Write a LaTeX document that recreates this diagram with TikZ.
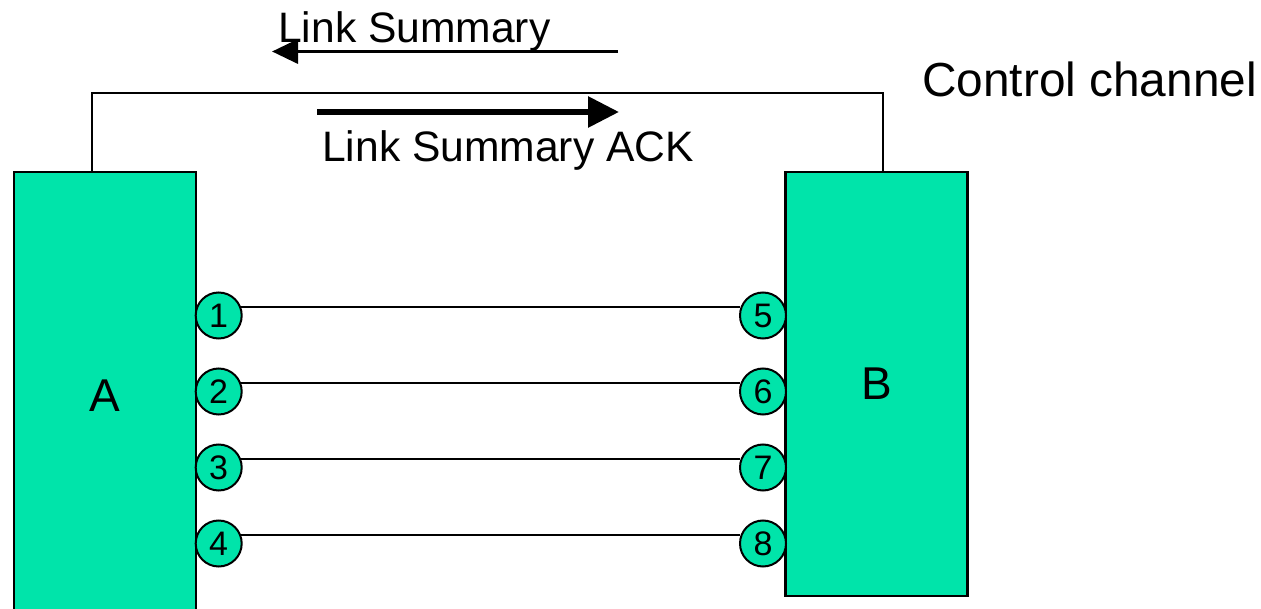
\documentclass[tikz,border=0pt]{standalone}
\usepackage{fontspec}
\setmainfont{Liberation Sans}
\usepackage{xcolor}
\usetikzlibrary{arrows.meta, positioning}
\definecolor{boxgreen}{RGB}{0,228,170}

\begin{document}
\begin{tikzpicture}[
    x=1pt, y=-1pt,
    box/.style={rectangle, draw, line width=2.5pt, fill=boxgreen, inner sep=0pt,
        minimum width=182pt, font=\fontsize{46}{52}\selectfont},
    port/.style={circle, draw, line width=2pt, fill=boxgreen, inner sep=0pt,
        minimum size=46pt, font=\fontsize{34}{38}\selectfont},
    lbl/.style={anchor=base west, inner sep=0pt, font=\fontsize{42.6}{48}\selectfont},
    link/.style={line width=2pt},
    msg/.style={line width=3.5pt, -{Triangle[length=26pt, width=24pt]}},
    ack/.style={line width=6pt, -{Triangle[length=31pt, width=30pt]}}
]
\useasboundingbox (0,0) rectangle (1261,609);

\node[box, minimum height=448pt] (A) at (105,396) {A};
\node[box, minimum height=424pt] (B) at (876.5,384) {B};

\coordinate (ctop) at (488,93.5);
\draw[link] ([xshift=-13pt]A.north) |- (ctop) -| ([xshift=6.5pt]B.north);

\node[lbl, font=\fontsize{47.8}{54}\selectfont] (ctl) at (922,97) {Control channel};
\node[lbl] (ls) at (278,43) {Link Summary};
\node[lbl] (lsack) at (322,162) {Link Summary ACK};

\coordinate (lsfrom) at (618,51.5);
\coordinate (lsto) at (272,51.5);
\coordinate (ackfrom) at (317,112);
\coordinate (ackto) at (619,112);
\draw[msg] (lsfrom) -- (lsto);
\draw[ack] (ackfrom) -- (ackto);

\foreach \i/\j/\y in {1/5/315.5, 2/6/391.5, 3/7/467.5, 4/8/543.5} {
    \node[port] (l\i) at (218.7,\y) {\i};
    \node[port] (r\j) at (763,\y) {\j};
    \draw[link] (l\i.20) -- (r\j.160);
}
\end{tikzpicture}
\end{document}
